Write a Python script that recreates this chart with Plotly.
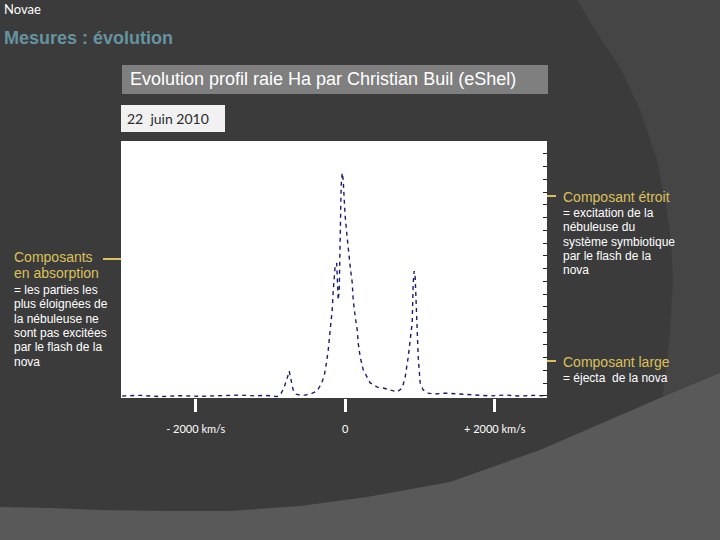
import plotly.graph_objects as go

# ---- data (velocity km/s, relative flux) ----
velocity = [-2983, -2742, -2475, -2207, -1940, -1672, -1405, -1204, -1070, -977, -910,
            -856, -816, -776, -749, -722, -696, -656, -602, -535, -468, -401, -361,
            -321, -281, -254, -227, -201, -174, -161, -134, -114, -100, -94, -80,
            -67, -54, -40, -27, -13, 0, 27, 40, 67, 94, 107, 134, 161, 174, 201,
            241, 294, 334, 428, 508, 602, 696, 763, 803, 843, 870, 896, 910, 923,
            936, 950, 963, 977, 1003, 1043, 1110, 1204, 1338, 1538, 1739, 1940,
            2140, 2341, 2542, 2689]
flux = [1.00, 1.02, 0.98, 1.01, 0.99, 1.02, 1.03, 1.00, 1.02, 1.00, 0.98,
        1.09, 1.28, 1.56, 1.78, 1.47, 1.19, 1.06, 1.02, 1.03, 1.06, 1.13, 1.22,
        1.38, 1.63, 2.00, 2.44, 3.07, 3.70, 4.26, 5.11, 5.17, 4.58, 4.01, 4.33,
        6.15, 7.62, 8.00, 7.78, 7.15, 6.62, 5.96, 5.58, 5.05, 4.55, 4.01, 3.48,
        3.07, 2.66, 2.22, 1.82, 1.60, 1.41, 1.28, 1.25, 1.19, 1.13, 1.25, 1.60,
        2.22, 2.85, 3.29, 4.55, 4.92, 4.74, 3.79, 2.85, 2.22, 1.41, 1.19, 1.09,
        1.06, 1.09, 1.06, 1.03, 1.00, 1.03, 1.00, 1.02, 1.00]
tick_vals = [-2000, 0, 2000]
tick_text = ["- 2000 km/s", "0", "+ 2000 km/s"]

W, H = 720, 540
def px(x): return x / W
def py(y): return 1 - y / H

BG = "#3b3b3b"
YEL = "#dcc05a"

fig = go.Figure()
fig.add_trace(go.Scatter(x=velocity, y=flux, mode="lines",
                         line=dict(color="#1c1c6e", width=1.4, dash="4px,4px"),
                         hoverinfo="skip", showlegend=False))

shapes = []
def path_from(pts, close=True):
    s = "M " + " L ".join(f"{px(x):.4f},{py(y):.4f}" for x, y in pts)
    return s + (" Z" if close else "")

# background decorative regions
arc = [(577, 0), (597, 33), (620, 67), (640, 110), (657, 160), (665, 200),
       (671, 240), (673, 280), (670, 330), (666, 370), (662, 400), (720, 400), (720, 0)]
shapes.append(dict(type="path", xref="paper", yref="paper", path=path_from(arc),
                   fillcolor="#454545", line=dict(width=0), layer="below"))
bottom = [(0, 507), (50, 508), (100, 510), (167, 511), (230, 511), (300, 506),
          (367, 497), (450, 482), (540, 450), (600, 424), (660, 398), (720, 373),
          (720, 540), (0, 540)]
shapes.append(dict(type="path", xref="paper", yref="paper", path=path_from(bottom),
                   fillcolor="#595959", line=dict(width=0), layer="below"))
# title box
shapes.append(dict(type="rect", xref="paper", yref="paper", x0=px(122), x1=px(548),
                   y0=py(94), y1=py(65), fillcolor="#7f7f7f", line=dict(width=0), layer="below"))
# date box
shapes.append(dict(type="rect", xref="paper", yref="paper", x0=px(121), x1=px(225),
                   y0=py(132), y1=py(105), fillcolor="#f1f1f1", line=dict(width=0), layer="below"))
# yellow pointer lines
for x0, x1, y in [(103, 121, 259), (547, 556, 196), (547, 556, 361)]:
    shapes.append(dict(type="line", xref="paper", yref="paper", x0=px(x0), x1=px(x1),
                       y0=py(y), y1=py(y), line=dict(color=YEL, width=2)))

ann = []
def text(x, y, t, size, color, family="Liberation Sans, Arial", bold=False):
    if bold:
        t = f"<b>{t}</b>"
    ann.append(dict(x=px(x), y=py(y), xref="paper", yref="paper", text=t, showarrow=False,
                    xanchor="left", yanchor="middle", font=dict(size=size, color=color, family=family)))

text(2, 9, "Novae", 13, "white", family="Lato")
text(2, 38, "Mesures : évolution", 18, "#6593a0", bold=True)
text(128, 79, "Evolution profil raie Ha par Christian Buil (eShel)", 18, "white")
text(125, 119, "22  juin 2010", 14, "#2a2a2a", family="Lato")

text(12, 257, "Composants", 14, YEL)
text(12, 273, "en absorption", 14, YEL)
for i, t in enumerate(["= les parties les", "plus éloignées de", "la nébuleuse ne",
                       "sont pas excitées", "par le flash de la", "nova"]):
    text(12, 290 + i * 14.3, t, 12, "white")

text(561, 197, "Composant étroit", 14, YEL)
for i, t in enumerate(["= excitation de la", "nébuleuse du", "système symbiotique",
                       "par le flash de la", "nova"]):
    text(561, 213 + i * 14.3, t, 12, "white")

text(561, 362, "Composant large", 14, YEL)
text(561, 378, "= éjecta  de la nova", 12, "white")

fig.update_layout(
    width=W, height=H, margin=dict(l=0, r=0, t=0, b=0),
    paper_bgcolor=BG, plot_bgcolor="white",
    shapes=shapes, annotations=ann, showlegend=False,
    xaxis=dict(domain=[px(121), px(547)], range=[-3000, 2700], showgrid=False,
               zeroline=False, showline=False, ticks="outside", ticklen=13,
               tickwidth=3, tickcolor="white", tickvals=tick_vals, ticktext=tick_text,
               tickfont=dict(family="Lato", size=11, color="white"),
               ticklabelstandoff=8, fixedrange=True),
    yaxis=dict(domain=[py(398), py(141)], range=[0.937, 9.0], side="right",
               showgrid=False, zeroline=False, showline=False, ticks="inside",
               ticklen=4, tickwidth=1, tickcolor="#222", dtick=0.4, tick0=1.0,
               showticklabels=False, fixedrange=True),
)

fig.write_html("out.html")
